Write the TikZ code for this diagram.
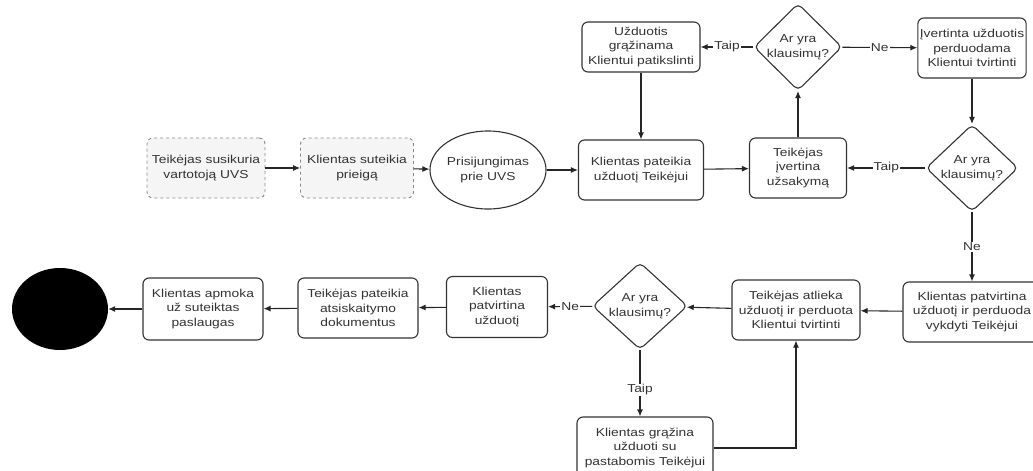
\documentclass[tikz,border=0pt]{standalone}
\usepackage{fontspec}
\setmainfont{Liberation Sans}[FakeStretch=1.2]
\usetikzlibrary{arrows.meta,shapes.geometric}
\definecolor{txtgray}{HTML}{333333}
\definecolor{dashgray}{HTML}{8A8A8A}
\definecolor{lightfill}{HTML}{F5F5F5}

\tikzset{
  step box/.style={draw=txtgray, line width=1.1pt, rounded corners=6pt, fill=white,
    align=center, inner sep=2pt},
  start box/.style={draw=dashgray, dashed, line width=0.9pt, rounded corners=6pt,
    fill=lightfill, align=center, inner sep=2pt},
  question/.style={diamond, draw=txtgray, line width=1.1pt, rounded corners=5pt,
    fill=white, align=center, inner sep=0pt},
  flow/.style={line width=1.1pt, draw=black!85, -{Latex[length=7pt,width=6pt]}},
  answer/.style={fill=white, inner sep=1pt}
}

\begin{document}
\begin{tikzpicture}[x=1pt, y=-1pt, text=txtgray, font=\fontsize{11.5}{14.5}\selectfont]
	\fill[white] (0,0) rectangle (1033,471);
	\useasboundingbox (0,0) rectangle (1033,471);
	% top row
	\node[start box, minimum width=118pt, minimum height=60pt] (account) at (206,168) {Teikėjas susikuria\\vartotoją UVS};
	\node[start box, minimum width=113pt, minimum height=60pt] (access) at (357,168) {Klientas suteikia\\prieigą};
	\node[ellipse, draw=txtgray, line width=1.1pt, minimum width=90pt, minimum height=78pt, inner sep=0pt, align=center] (login) at (488,170) {Prisijungimas\\prie UVS};
	\node[step box, minimum width=125pt, minimum height=60pt] (submit) at (641,170) {Klientas pateikia\\užduotį Teikėjui};
	\node[step box, minimum width=97pt, minimum height=60pt] (assess) at (798,168) {Teikėjas\\įvertina\\užsakymą};
	\node[question, minimum width=92pt, minimum height=74pt] (askB) at (972,168) {Ar yra\\klausimų?};
	% upper row
	\node[step box, minimum width=118pt, minimum height=50pt] (clarify) at (641,47) {Užduotis\\grąžinama\\Klientui patikslinti};
	\node[question, minimum width=88pt, minimum height=71pt] (askA) at (798,47) {Ar yra\\klausimų?};
	\node[step box, minimum width=108pt, minimum height=60pt] (rated) at (972,48) {Įvertinta užduotis\\perduodama\\Klientui tvirtinti};
	% bottom row
	\node[step box, minimum width=138pt, minimum height=60pt] (confirm) at (972,312) {Klientas patvirtina\\užduotį ir perduoda\\vykdyti Teikėjui};
	\node[step box, minimum width=128pt, minimum height=60pt] (execute) at (796,310) {Teikėjas atlieka\\užduotį ir perduota\\Klientui tvirtinti};
	\node[question, minimum width=95pt, minimum height=87pt] (askC) at (640,306) {Ar yra\\klausimų?};
	\node[step box, minimum width=101pt, minimum height=61pt] (approve) at (497,307) {Klientas\\patvirtina\\užduotį};
	\node[step box, minimum width=120pt, minimum height=60pt] (invoice) at (358,308) {Teikėjas pateikia\\atsiskaitymo\\dokumentus};
	\node[step box, minimum width=120pt, minimum height=62pt] (pay) at (203,309) {Klientas apmoka\\už suteiktas\\paslaugas};
	\node[ellipse, fill=black, minimum width=96pt, minimum height=82pt] (finish) at (60,309) {};
	\node[step box, minimum width=136pt, minimum height=62pt] (remarks) at (645,448) {Klientas grąžina\\užduoti su\\pastabomis Teikėjui};

	\draw[flow] (account) -- (access);
	\draw[flow] (access) -- (login);
	\draw[flow] (login) -- (submit);
	\draw[flow] (submit) -- (assess);
	\draw[flow] (assess) -- (askA);
	\draw[flow] (askA) -- node[answer] {Taip} (clarify);
	\draw[flow] (askA) -- node[answer] {Ne} (rated);
	\draw[flow] (clarify) -- (submit);
	\draw[flow] (rated) -- (askB);
	\draw[flow] (askB) -- node[answer] {Taip} (assess);
	\draw[flow] (askB) -- node[answer] {Ne} (confirm);
	\draw[flow] (confirm) -- (execute);
	\draw[flow] (execute) -- (askC);
	\draw[flow] (askC) -- node[answer] {Ne} (approve);
	\draw[flow] (approve) -- (invoice);
	\draw[flow] (invoice) -- (pay);
	\draw[flow] (pay) -- (finish);
	\draw[flow] (askC.south) -- node[answer, pos=0.6] {Taip} (askC.south |- remarks.north);
	\draw[flow] (remarks.east) -| (execute.south);
\end{tikzpicture}
\end{document}
